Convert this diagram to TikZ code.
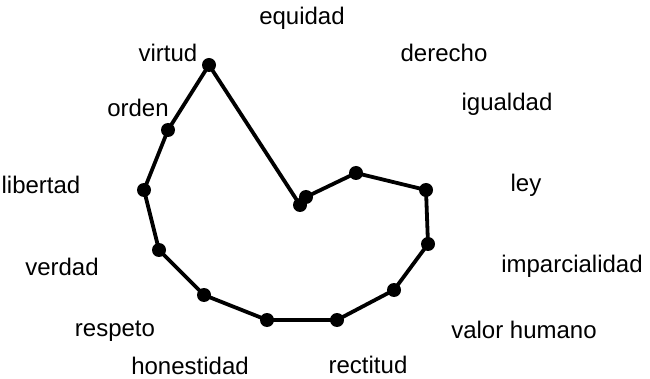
\documentclass[tikz,border=0pt]{standalone}
\usepackage{fontspec}
\setmainfont{Liberation Sans}
\begin{document}
\begin{tikzpicture}[x=1pt,y=-1pt,
  lbl/.style={font=\fontsize{24}{28}\selectfont, inner sep=0pt},
  pt/.style={circle, fill=black, minimum size=14pt, inner sep=0pt},
  edge/.style={line width=3.8pt, line join=round}]
\useasboundingbox (0,0) rectangle (650,379);
% data points
\node[pt] (p1) at (209,65) {};
\node[pt] (p2) at (168,130) {};
\node[pt] (p3) at (144,190) {};
\node[pt] (p4) at (159,250) {};
\node[pt] (p5) at (204,295) {};
\node[pt] (p6) at (267,320) {};
\node[pt] (p7) at (337,320) {};
\node[pt] (p8) at (394,290) {};
\node[pt] (p9) at (428,244) {};
\node[pt] (p10) at (426,190) {};
\node[pt] (p11) at (356,173) {};
\node[pt] (p12) at (306,197) {};
\node[pt] (p13) at (300,205) {};
\draw[edge] (p1.center) -- (p2.center) -- (p3.center) -- (p4.center) -- (p5.center)
  -- (p6.center) -- (p7.center) -- (p8.center) -- (p9.center) -- (p10.center)
  -- (p11.center) -- (p12.center) -- (p13.center) -- cycle;
% labels
\node[lbl] (l1) at (302,18) {equidad};
\node[lbl] (l2) at (444,53) {derecho};
\node[lbl] (l3) at (168,53) {virtud};
\node[lbl] (l4) at (507,104) {igualdad};
\node[lbl] (l5) at (138,108) {orden};
\node[lbl] (l6) at (526,185) {ley};
\node[lbl] (l7) at (41,185) {libertad};
\node[lbl] (l8) at (572,266) {imparcialidad};
\node[lbl] (l9) at (62,267) {verdad};
\node[lbl] (l10) at (524,330) {valor humano};
\node[lbl] (l11) at (115,331) {respeto};
\node[lbl] (l12) at (190,366) {honestidad};
\node[lbl] (l13) at (368,365) {rectitud};
\end{tikzpicture}
\end{document}
